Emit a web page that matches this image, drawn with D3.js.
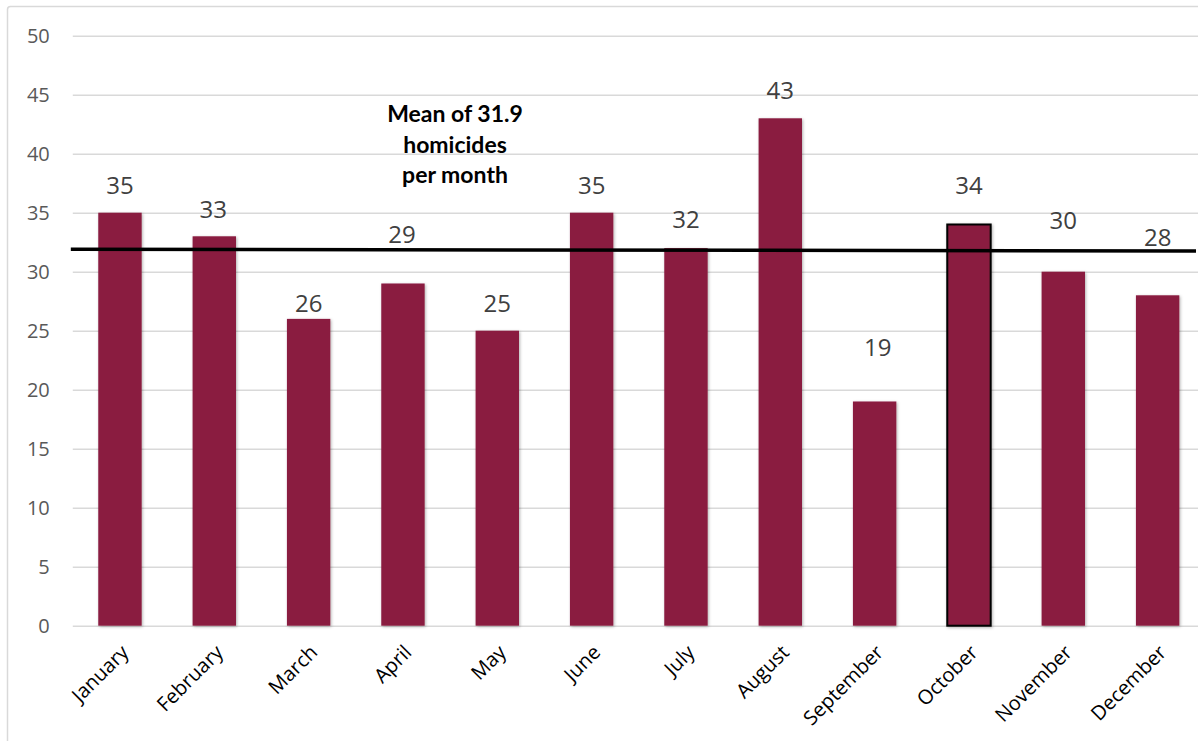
<!DOCTYPE html>
<html>
<head>
<meta charset="utf-8">
<script src="https://cdn.jsdelivr.net/npm/d3@7"></script>
<style>
  html, body { margin: 0; padding: 0; background: #ffffff; }
  svg { display: block; }
</style>
</head>
<body>
<svg id="chart" width="1198" height="741"></svg>
<script>
// Monthly homicide counts
const months = ["January", "February", "March", "April", "May", "June",
                "July", "August", "September", "October", "November", "December"];
const homicides = [35, 33, 26, 29, 25, 35, 32, 43, 19, 34, 30, 28];
const yTicks = [0, 5, 10, 15, 20, 25, 30, 35, 40, 45, 50];
const meanValue = 31.9;
const meanLabel = ["Mean of 31.9", "homicides", "per month"];
const highlightMonth = "October";

// Layout
const W = 1198, H = 741;
const plot = { left: 72.8, right: 1204.8, top: 35.7, bottom: 625.7 };
const barColor = "#8a1c40";
// how far (in value units) each value label sits above its bar
const labelLift = [1.6, 1.55, 0.6, 3.4, 1.57, 1.6, 1.7, 1.6, 3.85, 2.6, 3.6, 4.2];
// small horizontal nudges for a few value labels (px)
const labelShift = [0, -1, 0, -1, 0, 0, 0, 0, 3, 0, 0, 0];

const svg = d3.select("#chart");

const defs = svg.append("defs");
const shadow = defs.append("filter").attr("id", "barShadow")
  .attr("x", "-30%").attr("y", "-10%").attr("width", "160%").attr("height", "120%");
shadow.append("feDropShadow")
  .attr("dx", 1).attr("dy", 1).attr("stdDeviation", 1.6)
  .attr("flood-color", "#000").attr("flood-opacity", 0.3);

// Outer frame
svg.append("rect")
  .attr("x", 7.5).attr("y", 6.5)
  .attr("width", W + 20).attr("height", H + 20)
  .attr("rx", 3)
  .attr("fill", "none").attr("stroke", "#d9d9d9").attr("stroke-width", 1.5);

const x = d3.scaleBand().domain(months).range([plot.left, plot.right])
  .paddingInner(0.54).paddingOuter(0.27);
const y = d3.scaleLinear().domain([0, 50]).range([plot.bottom, plot.top]);

// Gridlines and y tick labels
const yAxis = d3.axisLeft(y).tickValues(yTicks)
  .tickSize(-(plot.right - plot.left)).tickPadding(23);
const gy = svg.append("g").attr("transform", `translate(${plot.left},0)`).call(yAxis);
gy.select(".domain").remove();
gy.selectAll(".tick line").attr("stroke", "#d9d9d9").attr("stroke-width", 1.5);
gy.selectAll(".tick text")
  .attr("fill", "#595959")
  .style("font-family", "'Open Sans', sans-serif")
  .style("font-size", "20px");

// Bars
svg.append("g").selectAll("rect")
  .data(homicides)
  .join("rect")
  .attr("x", (d, i) => x(months[i]))
  .attr("y", d => y(d))
  .attr("width", x.bandwidth())
  .attr("height", d => y(0) - y(d))
  .attr("fill", barColor)
  .attr("filter", "url(#barShadow)")
  .attr("stroke", (d, i) => months[i] === highlightMonth ? "#000" : "none")
  .attr("stroke-width", 2);

// Value labels
svg.append("g").selectAll("text")
  .data(homicides)
  .join("text")
  .attr("x", (d, i) => x(months[i]) + x.bandwidth() / 2 + labelShift[i])
  .attr("y", (d, i) => y(d + labelLift[i]))
  .attr("text-anchor", "middle")
  .attr("fill", "#404040")
  .style("font-family", "'Open Sans', sans-serif")
  .style("font-size", "24px")
  .text(d => d);

// Month labels, rotated
const xAxis = d3.axisBottom(x).tickSize(0).tickPadding(0);
const gx = svg.append("g").attr("transform", `translate(0,${plot.bottom})`).call(xAxis);
gx.select(".domain").remove();
gx.selectAll(".tick text")
  .attr("transform", "translate(5,23) rotate(-45)")
  .attr("text-anchor", "end")
  .attr("dy", "0.35em")
  .attr("y", 0)
  .attr("fill", "#000")
  .style("font-family", "'Open Sans', sans-serif")
  .style("font-size", "20px");

// Mean line
svg.append("line")
  .attr("x1", plot.left - 2).attr("x2", 1196)
  .attr("y1", y(meanValue)).attr("y2", y(meanValue - 0.15))
  .attr("stroke", "#000").attr("stroke-width", 3.5);

// Mean annotation
const note = svg.append("text")
  .attr("text-anchor", "middle")
  .attr("fill", "#000")
  .style("font-family", "Lato, sans-serif")
  .style("font-weight", 700)
  .style("font-size", "23px");
note.selectAll("tspan")
  .data(meanLabel)
  .join("tspan")
  .attr("x", 455)
  .attr("y", (d, i) => 122 + i * 30.5)
  .text(d => d);
</script>
</body>
</html>
